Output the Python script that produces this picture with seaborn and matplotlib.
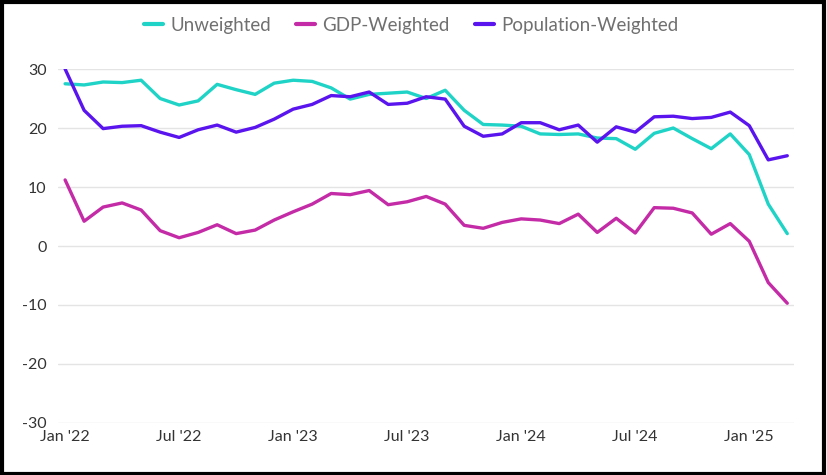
import pandas as pd
import seaborn as sns
import matplotlib.pyplot as plt
from matplotlib.patches import Rectangle

# monthly values, Jan 2022 .. Mar 2025
months = pd.date_range("2022-01-01", periods=39, freq="MS")

unweighted = [27.5, 27.3, 27.8, 27.7, 28.1, 25.0, 23.9, 24.6, 27.4, 26.5,
              25.7, 27.6, 28.1, 27.9, 26.8, 24.9, 25.7, 25.9, 26.1, 25.0,
              26.4, 23.0, 20.6, 20.5, 20.3, 19.0, 18.9, 19.0, 18.3, 18.2,
              16.4, 19.1, 20.0, 18.2, 16.5, 19.0, 15.5, 7.1, 2.1]
gdp_weighted = [11.2, 4.2, 6.6, 7.3, 6.1, 2.6, 1.4, 2.3, 3.6, 2.1,
                2.7, 4.4, 5.8, 7.1, 8.9, 8.7, 9.4, 7.0, 7.5, 8.4,
                7.1, 3.5, 3.0, 4.0, 4.6, 4.4, 3.8, 5.4, 2.3, 4.7,
                2.2, 6.5, 6.4, 5.6, 2.0, 3.8, 0.8, -6.2, -9.7]
pop_weighted = [30.0, 23.0, 19.9, 20.3, 20.4, 19.3, 18.4, 19.7, 20.5, 19.3,
                20.1, 21.5, 23.2, 24.0, 25.5, 25.3, 26.1, 24.0, 24.2, 25.3,
                24.9, 20.3, 18.6, 19.0, 20.9, 20.9, 19.7, 20.5, 17.6, 20.2,
                19.3, 21.9, 22.0, 21.6, 21.8, 22.7, 20.4, 14.6, 15.3]

series_names = ["Unweighted", "GDP-Weighted", "Population-Weighted"]
colors = ["#1fd3c6", "#c42ba6", "#5a14ee"]

df = pd.DataFrame({"month": months, "Unweighted": unweighted,
                   "GDP-Weighted": gdp_weighted, "Population-Weighted": pop_weighted})
long = df.melt(id_vars="month", var_name="series", value_name="value")
long["idx"] = long["month"].dt.year * 12 + long["month"].dt.month - (2022 * 12 + 1)

sns.set_theme(style="white")
plt.rcParams["font.family"] = ["Lato", "DejaVu Sans"]
plt.rcParams["axes.unicode_minus"] = False

fig = plt.figure(figsize=(8.27, 4.75), dpi=100)
ax = fig.add_axes([0.070, 0.1095, 0.890, 0.7452])

sns.lineplot(data=long, x="idx", y="value", hue="series", hue_order=series_names,
             palette=colors, linewidth=2.4, ax=ax)

ax.set_ylim(-30, 30)
ax.set_xlim(-0.38, 38.35)
ax.set_yticks(range(-30, 31, 10))
ax.yaxis.grid(True, color="#e4e4e4", linewidth=1)
ax.xaxis.grid(False)
for s in ax.spines.values():
    s.set_visible(False)

tick_idx = list(range(0, 39, 6))
ax.set_xticks(tick_idx)
ax.set_xticklabels([months[i].strftime("%b '%y") for i in tick_idx])
ax.tick_params(axis="both", length=0, labelsize=11.5, colors="#333333")
ax.tick_params(axis="x", pad=5)
ax.tick_params(axis="y", pad=8)
ax.set_xlabel("")
ax.set_ylabel("")

handles, labels = ax.get_legend_handles_labels()
ax.legend(handles, labels, loc="center", bbox_to_anchor=(0.48, 1.124), ncol=3,
          frameon=False, fontsize=13.5, handlelength=1.0, handletextpad=0.4,
          columnspacing=1.35, labelcolor="#707070")
for line in ax.get_legend().get_lines():
    line.set_linewidth(3)

fig.patches.append(Rectangle((0.002, 0.003), 0.994, 0.993, transform=fig.transFigure,
                             fill=False, edgecolor="black", linewidth=3))

fig.savefig("out.png", dpi=100)
